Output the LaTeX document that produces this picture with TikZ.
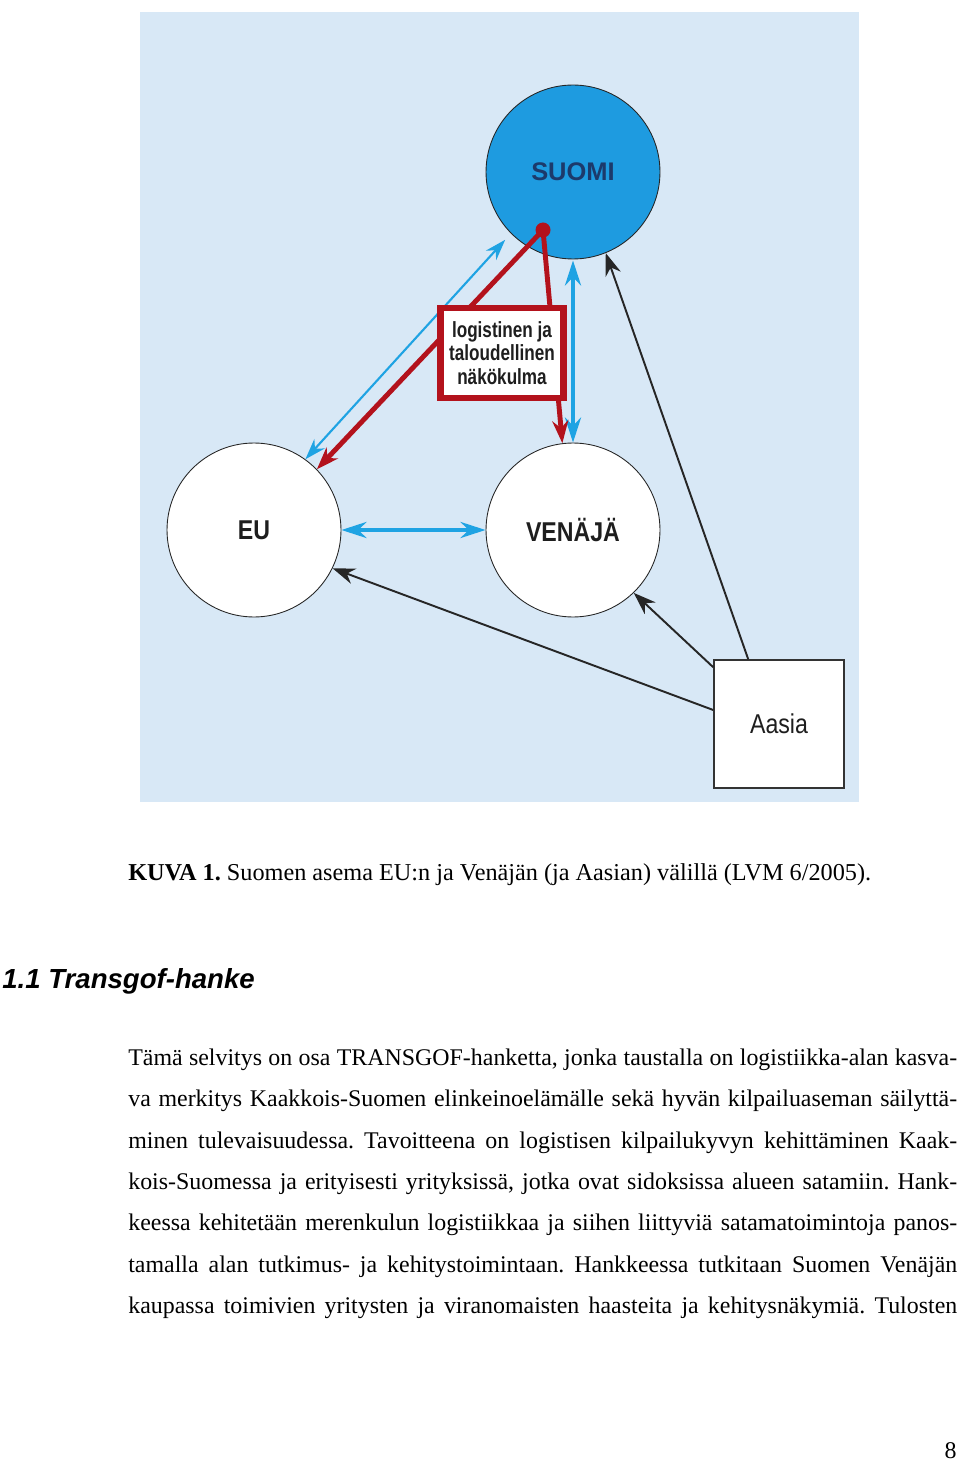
\documentclass[tikz,border=0pt]{standalone}
\usepackage{fontspec}
\setmainfont{Liberation Serif}
\newfontfamily\kvsans{Liberation Sans}
\newfontfamily\kvcond[FakeStretch=0.85]{Liberation Sans}
\newfontfamily\kvnarrow[FakeStretch=0.78]{Liberation Sans}
\usetikzlibrary{arrows.meta, positioning, calc}
\frenchspacing
\definecolor{kvBack}{HTML}{D8E8F6}
\definecolor{kvSuomi}{HTML}{1E9BE0}
\definecolor{kvBlue}{HTML}{1FA3E3}
\definecolor{kvRed}{HTML}{B3121C}
\definecolor{kvNavy}{HTML}{1C3A6B}
\definecolor{kvInk}{HTML}{1E1E1E}
\newcommand{\kvline}[1]{\makebox[16.58cm][s]{#1}}
\tikzset{
  kv-circle/.style={
    circle, draw=black!85, line width=0.5pt, fill=white,
    minimum size=3.48cm, inner sep=0pt, text=kvInk,
    font=\kvcond\bfseries\fontsize{15.5}{18}\selectfont
  },
  kv-box/.style={
    rectangle, draw=black!80, line width=0.9pt, fill=white,
    minimum width=2.6cm, minimum height=2.56cm, inner sep=0pt, text=kvInk,
    font=\kvcond\fontsize{15.5}{18}\selectfont
  },
  kv-note/.style={
    rectangle, draw=kvRed, line width=0.13cm, fill=white,
    minimum width=2.47cm, minimum height=1.81cm, inner sep=0pt,
    align=center, text=kvInk,
    font=\kvnarrow\bfseries\fontsize{12.5}{13.3}\selectfont
  },
  kv-text/.style={inner sep=0pt, font=\fontsize{13.6}{16}\selectfont},
  kv-blue-thin/.style={
    {Stealth[length=0.42cm,width=0.28cm]}-{Stealth[length=0.42cm,width=0.28cm]},
    line width=1.2pt, draw=kvBlue
  },
  kv-blue/.style={
    {Stealth[length=0.5cm,width=0.32cm]}-{Stealth[length=0.5cm,width=0.32cm]},
    line width=2.2pt, draw=kvBlue
  },
  kv-red/.style={-{Stealth[length=0.45cm,width=0.32cm]}, line width=2.8pt, draw=kvRed},
  kv-asia/.style={-{Stealth[length=0.45cm,width=0.32cm]}, line width=1.1pt, draw=black!85},
}
\begin{document}
\begin{tikzpicture}[x=0.02cm, y=-0.02cm]
  \useasboundingbox (0,0) rectangle (960,1462);
  \fill[kvBack] (140,12) rectangle (859,802);

  % maat
  \node[kv-circle, fill=kvSuomi, text=kvNavy, font=\kvsans\bfseries\fontsize{14.5}{17}\selectfont]
                                  (suomi)   at (573,172) {SUOMI};
  \node[kv-circle]                (eu)      at (254,530) {EU};
  \node[kv-circle]                (venaja)  at (573,530) {VENÄJÄ};
  \node[kv-box]                   (aasia)   at (779,724) {Aasia};
  \coordinate (reddot) at (543,230);

  % yhteydet
  \draw[kv-blue-thin] (eu.54) -- ([shift={(-6,6)}]suomi.225);
  \draw[kv-blue] (eu.east) -- (venaja.west);
  \draw[kv-blue] ([yshift=-0.02cm]suomi.south) -- (venaja.north);
  \draw[kv-red] (reddot) -- (eu.44);
  \draw[kv-red] (reddot) -- (venaja.97);
  \fill[kvRed] (reddot) circle (0.15cm);
  \draw[kv-asia] ([xshift=0.7cm]aasia.north west) -- (suomi.-68);
  \draw[kv-asia] ([yshift=-0.16cm]aasia.north west) -- (venaja.-46);
  \draw[kv-asia] ([yshift=0.28cm]aasia.west) -- (eu.-26);

  \node[kv-note] (nakokulma) at (502,353) {logistinen ja\\taloudellinen\\näkökulma};

  % kuvateksti ja leipateksti
  \node[kv-text, anchor=base west, font=\fontsize{13.8}{16}\selectfont] (caption) at (128,880)
    {\textbf{KUVA 1.} Suomen asema EU:n ja Venäjän (ja Aasian) välillä (LVM 6/2005).};
  \node[anchor=base west, inner sep=0pt, font=\kvsans\bfseries\itshape\fontsize{15.7}{18}\selectfont]
    (otsikko) at (2,988) {1.1 Transgof-hanke};
  \node[kv-text, anchor=base west] (body1) at (128,1065)
    {\kvline{Tämä selvitys on osa TRANSGOF-hanketta, jonka taustalla on logistiikka-alan kasva-}};
  \node[kv-text, anchor=base west] (body2) at (128,1106)
    {\kvline{va merkitys Kaakkois-Suomen elinkeinoelämälle sekä hyvän kilpailuaseman säilyttä-}};
  \node[kv-text, anchor=base west] (body3) at (128,1148)
    {\kvline{minen tulevaisuudessa. Tavoitteena on logistisen kilpailukyvyn kehittäminen Kaak-}};
  \node[kv-text, anchor=base west] (body4) at (128,1189)
    {\kvline{kois-Suomessa ja erityisesti yrityksissä, jotka ovat sidoksissa alueen satamiin. Hank-}};
  \node[kv-text, anchor=base west] (body5) at (128,1230)
    {\kvline{keessa kehitetään merenkulun logistiikkaa ja siihen liittyviä satamatoimintoja panos-}};
  \node[kv-text, anchor=base west] (body6) at (128,1272)
    {\kvline{tamalla alan tutkimus- ja kehitystoimintaan. Hankkeessa tutkitaan Suomen Venäjän}};
  \node[kv-text, anchor=base west] (body7) at (128,1313)
    {\kvline{kaupassa toimivien yritysten ja viranomaisten haasteita ja kehitysnäkymiä. Tulosten}};
  \node[kv-text, anchor=base east] (sivu) at (957,1458) {8};
\end{tikzpicture}
\end{document}
